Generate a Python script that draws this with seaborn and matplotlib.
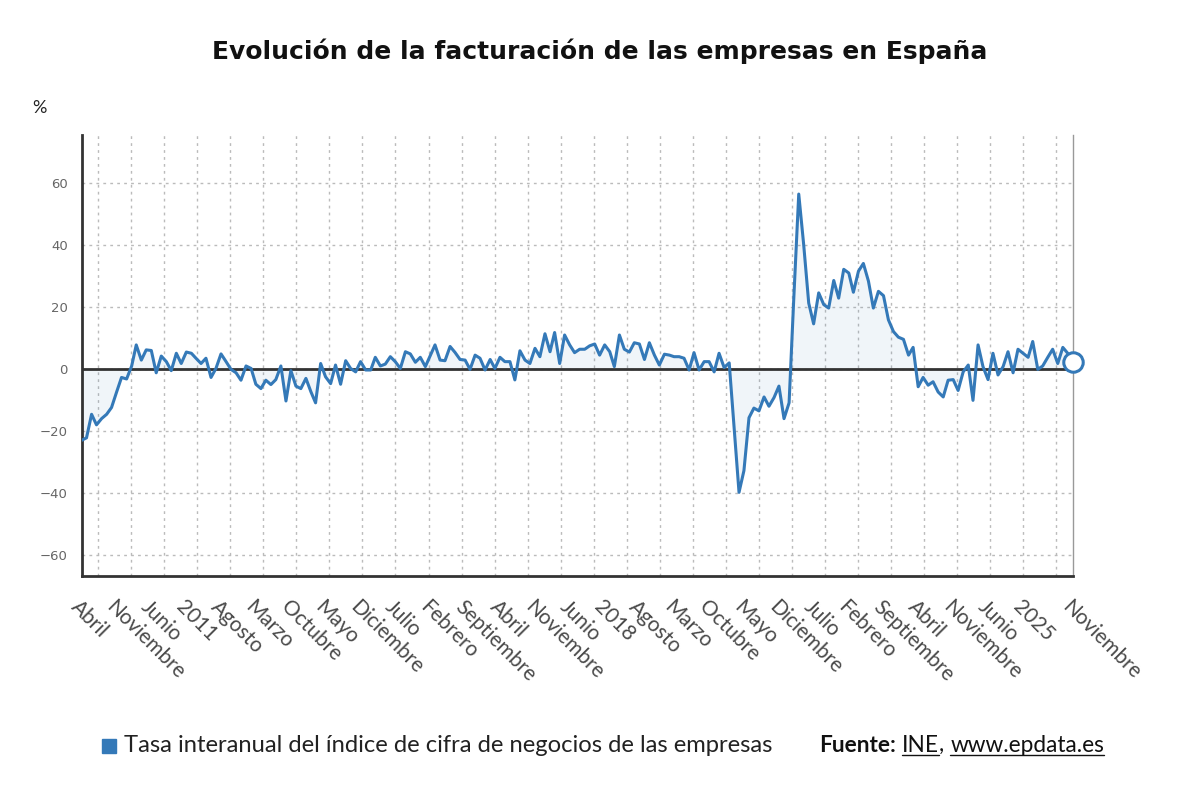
import matplotlib
matplotlib.use('Agg')
import matplotlib.pyplot as plt
import seaborn as sns
import numpy as np
import pandas as pd
from matplotlib.lines import Line2D

# Tasa interanual (%), mensual desde abril 2009 hasta noviembre 2025
tasa = [
    -23.0, -22.2, -14.6, -18.0, -16.0, -14.6, -12.4, -7.4, -2.7, -3.2,
    1.0, 7.8, 2.9, 6.2, 6.0, -1.2, 4.2, 2.4, -0.5, 5.1,
    1.8, 5.5, 5.1, 3.5, 1.8, 3.5, -2.7, 0.2, 4.9, 2.4,
    -0.1, -1.2, -3.6, 1.0, 0.2, -4.9, -6.3, -3.6, -5.0, -3.4,
    1.0, -10.3, -0.5, -5.5, -6.3, -3.0, -7.4, -10.9, 1.8, -2.5,
    -4.7, 1.3, -4.9, 2.7, 0.2, -0.9, 2.4, -0.3, -0.3, 3.8,
    1.0, 1.6, 4.0, 2.4, 0.2, 5.6, 4.9, 2.2, 3.8, 0.8,
    4.5, 7.8, 2.9, 2.7, 7.3, 5.4, 3.1, 2.9, -0.1, 4.5,
    3.5, -0.3, 3.1, 0.2, 3.8, 2.4, 2.4, -3.5, 5.9, 2.9,
    1.8, 6.7, 4.0, 11.4, 5.6, 11.8, 1.8, 11.0, 7.8, 5.3,
    6.4, 6.4, 7.5, 8.1, 4.5, 7.8, 5.6, 0.8, 11.0, 6.4,
    5.5, 8.5, 8.1, 3.1, 8.5, 4.5, 1.3, 4.8, 4.5, 4.0,
    4.0, 3.5, -0.3, 5.3, -0.3, 2.4, 2.4, -0.9, 5.1, 0.5,
    2.0, -18.0, -39.8, -32.8, -15.7, -12.6, -13.5, -9.0, -12.0, -9.2,
    -5.5, -16.0, -10.9, 22.0, 56.5, 40.3, 21.3, 14.6, 24.6, 20.8,
    19.7, 28.6, 22.9, 32.2, 31.0, 24.8, 31.6, 34.1, 28.4, 19.7,
    25.1, 23.7, 15.9, 12.1, 10.3, 9.6, 4.5, 7.0, -5.7, -2.7,
    -5.2, -4.1, -7.4, -9.0, -3.6, -3.4, -6.9, -0.9, 1.3, -10.1,
    7.8, 0.8, -3.4, 5.1, -1.9, 0.8, 5.6, -1.2, 6.4, 5.1,
    3.8, 8.9, -0.1, 1.0, 3.8, 6.4, 1.8, 7.0, 5.1, 2.4,
]
fechas = pd.date_range('2009-04-01', periods=len(tasa), freq='MS')

tick_labels = [
    'Abril', 'Noviembre', 'Junio', '2011', 'Agosto', 'Marzo', 'Octubre',
    'Mayo', 'Diciembre', 'Julio', 'Febrero', 'Septiembre', 'Abril',
    'Noviembre', 'Junio', '2018', 'Agosto', 'Marzo', 'Octubre', 'Mayo',
    'Diciembre', 'Julio', 'Febrero', 'Septiembre', 'Abril', 'Noviembre',
    'Junio', '2025', 'Noviembre',
]
y_ticks = [-60, -40, -20, 0, 20, 40, 60]

azul = '#3479b8'
oscuro = '#333333'

sns.set_style('white')
plt.rcParams['font.family'] = ['Lato', 'DejaVu Sans']

df = pd.DataFrame({'fecha': fechas, 'tasa': tasa})

fig = plt.figure(figsize=(12, 8), dpi=100)
ax = fig.add_axes([0.068, 0.28, 0.826, 0.551])

ax.fill_between(df['fecha'], df['tasa'], 0, color=azul, alpha=0.07, lw=0, zorder=1)
ax.axhline(0, color=oscuro, lw=2, zorder=2)
sns.lineplot(data=df, x='fecha', y='tasa', color=azul, lw=2.2, ax=ax, zorder=3)
ax.plot(df['fecha'].iloc[-1], df['tasa'].iloc[-1], marker='o', ms=14,
        mfc='white', mec=azul, mew=2.2, zorder=4, clip_on=False)

# ejes
ax.set_xlim(fechas[0], fechas[-1])
ax.set_ylim(-66.8, 75.5)
label_pos = list(fechas[:190:7]) + [fechas[-1]]
ax.set_xticks(label_pos)
ax.set_xticklabels(tick_labels, rotation=-45, ha='left', va='top',
                   rotation_mode='anchor', fontsize=15, color='#4a4a4a')
# lineas de rejilla verticales (30 divisiones)
t0, t1 = fechas[0].value, fechas[-1].value
grid_pos = [pd.Timestamp(t0 + (k + 0.5) / 30 * (t1 - t0)) for k in range(30)]
ax.set_xticks(grid_pos, minor=True)
ax.set_yticks(y_ticks)
ax.set_yticklabels([str(v).replace('-', '\u2212') for v in y_ticks],
                   fontsize=9.5, color='#666666', family=['DejaVu Sans'])
ax.set_xlabel('')
ax.set_ylabel('')

ax.grid(False)
ax.grid(True, which='minor', axis='x', linestyle=(0, (2, 3)), color='#bbbbbb', lw=1)
ax.grid(True, which='major', axis='y', linestyle=(0, (2, 3)), color='#bbbbbb', lw=1)
ax.tick_params(axis='x', which='both', direction='out', length=6, width=1,
               color=oscuro, pad=9)
ax.tick_params(axis='y', direction='out', length=4, width=2, color=oscuro, pad=6)

ax.spines['top'].set_visible(False)
ax.spines['left'].set_color(oscuro)
ax.spines['left'].set_linewidth(2)
ax.spines['bottom'].set_color(oscuro)
ax.spines['bottom'].set_linewidth(2)
ax.spines['right'].set_color('#999999')
ax.spines['right'].set_linewidth(1)

# titulo y unidad
fig.text(0.5, 0.936, 'Evolución de la facturación de las empresas en España',
         ha='center', va='center', fontsize=18, fontweight='bold',
         family=['DejaVu Sans'], color='#111111')
fig.text(0.027, 0.865, '%', fontsize=13, color='#222222', ha='left', va='center')

# leyenda
yf = 0.068
fig.add_artist(Line2D([0.0907], [yf], marker='s', linestyle='', color=azul,
                      markersize=10, transform=fig.transFigure))
fig.text(0.103, yf, 'Tasa interanual del índice de cifra de negocios de las empresas',
         ha='left', va='center', fontsize=17.1, color='#222222')

# fuente
fig.canvas.draw()
renderer = fig.canvas.get_renderer()
x = 0.683
partes = [('Fuente:', 'bold', False), (' ', 'normal', False), ('INE', 'normal', True),
          (', ', 'normal', False), ('www.epdata.es', 'normal', True)]
for txt, peso, subrayado in partes:
    t = fig.text(x, yf, txt, ha='left', va='center', fontsize=16.3,
                 fontweight=peso, color='#111111')
    bb = t.get_window_extent(renderer).transformed(fig.transFigure.inverted())
    if subrayado:
        fig.add_artist(Line2D([bb.x0, bb.x1], [bb.y0 + 0.002, bb.y0 + 0.002],
                              transform=fig.transFigure, color='#111111', lw=1))
    x = bb.x1

fig.savefig('out.png', dpi=100)
